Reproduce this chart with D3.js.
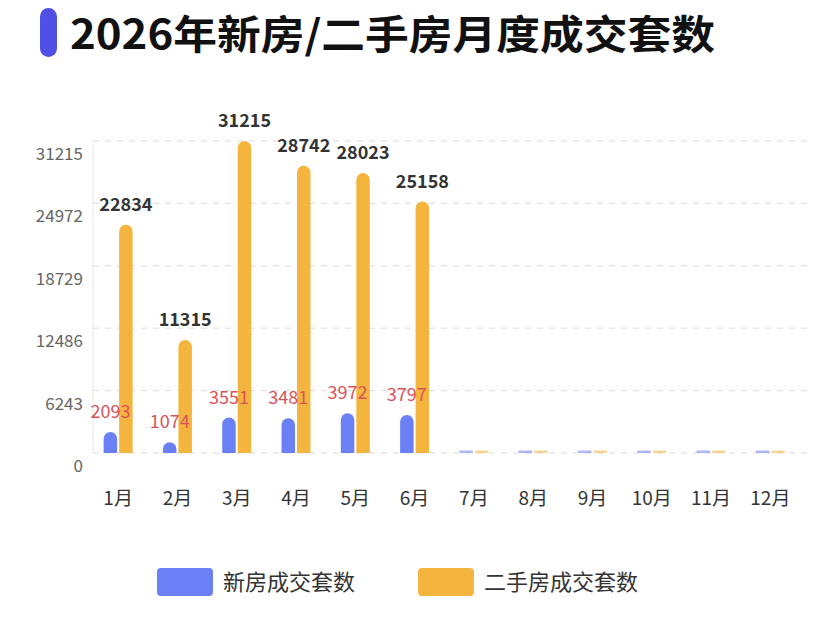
<!DOCTYPE html>
<html>
<head>
<meta charset="utf-8">
<script src="https://cdn.jsdelivr.net/npm/d3@7"></script>
<style>
  body { margin: 0; background: #fff; }
  text { font-family: "Noto Sans CJK SC", "Noto Sans", sans-serif; }
</style>
</head>
<body>
<script>
const months = ["1月", "2月", "3月", "4月", "5月", "6月", "7月", "8月", "9月", "10月", "11月", "12月"];
const newHouse = [2093, 1074, 3551, 3481, 3972, 3797, null, null, null, null, null, null];
const secondHand = [22834, 11315, 31215, 28742, 28023, 25158, null, null, null, null, null, null];
const yTicks = [0, 6243, 12486, 18729, 24972, 31215];
const seriesNames = ["新房成交套数", "二手房成交套数"];
const colors = ["#6b80f5", "#f4b53e"];

const W = 832, H = 634;
const svg = d3.select("body").append("svg").attr("width", W).attr("height", H);

// title
svg.append("rect").attr("x", 40).attr("y", 8).attr("width", 17).attr("height", 49)
  .attr("rx", 8.5).attr("fill", "#5150e4");
svg.append("text").attr("x", 70).attr("y", 49).text("2026年新房/二手房月度成交套数")
  .attr("font-size", 40).attr("font-weight", "bold").attr("fill", "#111")
  .attr("textLength", 645).attr("lengthAdjust", "spacingAndGlyphs");

const x = d3.scaleBand().domain(months).range([88.5, 800]);
const y = d3.scaleLinear().domain([0, 31215]).range([453, 141]);

// grid
svg.append("g").selectAll("line").data(yTicks).join("line")
  .attr("x1", 93).attr("x2", 813)
  .attr("y1", d => y(d)).attr("y2", d => y(d))
  .attr("stroke", "#dcdcdc").attr("stroke-dasharray", "6,6");
svg.append("line").attr("x1", 93).attr("x2", 93).attr("y1", 141).attr("y2", 453)
  .attr("stroke", "#e6e6e6");

// y labels
svg.append("g").selectAll("text").data(yTicks).join("text")
  .attr("x", 83).attr("y", d => y(d) + 13).attr("dy", "0.35em")
  .attr("text-anchor", "end").attr("font-size", 17).attr("fill", "#666")
  .text(d => d);

// x labels
svg.append("g").selectAll("text").data(months).join("text")
  .attr("x", d => x(d) + x.bandwidth() / 2).attr("y", 498).attr("dy", "0.35em")
  .attr("text-anchor", "middle").attr("font-size", 19).attr("fill", "#333")
  .text(d => d);

function barPath(x0, w, top, bottom) {
  const r = Math.min(w / 2, bottom - top);
  return `M${x0},${bottom}V${top + r}A${r},${r} 0 0 1 ${x0 + r},${top}` +
    `H${x0 + w - r}A${r},${r} 0 0 1 ${x0 + w},${top + r}V${bottom}Z`;
}

const bw = 13.5;
const offsets = [-14.5, 1];
const series = [newHouse, secondHand];

// bars
series.forEach((vals, s) => {
  svg.append("g").selectAll("path").data(vals).join("path")
    .attr("d", (d, i) => {
      const cx = x(months[i]) + x.bandwidth() / 2 + offsets[s];
      if (d == null) return `M${cx},${y(0)}h${bw}v-2.5h${-bw}Z`;
      return barPath(cx, bw, y(d), y(0));
    })
    .attr("fill", colors[s])
    .attr("opacity", d => d == null ? 0.55 : 1);
});

// value labels, drawn over the bars
series.forEach((vals, s) => {
  svg.append("g").selectAll("text").data(vals.map((v, i) => ({ v, i })).filter(d => d.v != null))
    .join("text")
    .attr("x", d => x(months[d.i]) + x.bandwidth() / 2 + offsets[s] + bw / 2)
    .attr("y", d => y(d.v) - 14)
    .attr("text-anchor", "middle")
    .attr("font-size", 18)
    .attr("font-weight", s == 1 ? "bold" : "normal")
    .attr("fill", s == 1 ? "#333" : "#d9535a")
    .text(d => d.v);
});

// legend
const legX = [157, 418];
seriesNames.forEach((name, i) => {
  svg.append("rect").attr("x", legX[i]).attr("y", 568).attr("width", 56).attr("height", 28)
    .attr("rx", 4).attr("fill", colors[i]);
  svg.append("text").attr("x", legX[i] + 66).attr("y", 582).attr("dy", "0.35em")
    .attr("font-size", 22).attr("fill", "#333").text(name);
});
</script>
</body>
</html>
